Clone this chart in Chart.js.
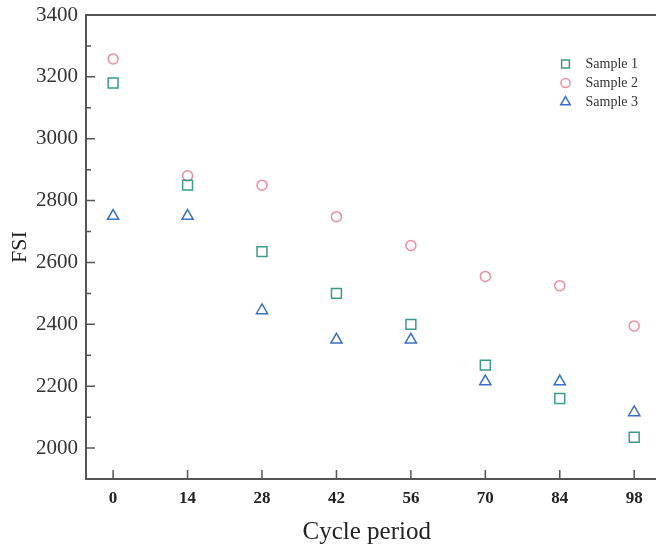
<!DOCTYPE html>
<html><head><meta charset="utf-8">
<script src="https://cdn.jsdelivr.net/npm/chart.js@4/dist/chart.umd.min.js"></script>
<style>html,body{margin:0;padding:0;background:#fff;}#wrap{width:656px;height:547px;position:relative;}</style>
</head><body><div id="wrap"><canvas id="c" width="656" height="547"></canvas></div>
<script>
const cycles = [0, 14, 28, 42, 56, 70, 84, 98];
const sample1 = [3180, 2850, 2635, 2500, 2400, 2268, 2160, 2035];
const sample2 = [3258, 2880, 2850, 2748, 2655, 2555, 2525, 2395];
const sample3 = [2750, 2750, 2445, 2350, 2350, 2215, 2215, 2115];
const seriesNames = ['Sample 1', 'Sample 2', 'Sample 3'];
const xTickLabels = ['0', '14', '28', '42', '56', '70', '84', '98'];
const yTickLabels = ['2000', '2200', '2400', '2600', '2800', '3000', '3200', '3400'];
const yMinorTicks = [2100, 2300, 2500, 2700, 2900, 3100, 3300];

const colors = ['#3a9a8c', '#f08c9c', '#3d6fc4'];
const styles = ['rect', 'circle', 'triangle'];
const radii = [7, 5, 6.5];
const legendRadii = [5.5, 4.5, 5.5];
const serif = "'Liberation Serif', 'DejaVu Serif', serif";

function pts(vals) { return cycles.map((c, i) => ({ x: c, y: vals[i] })); }
const allSeries = [sample1, sample2, sample3];

const frame = {
  id: 'frame',
  afterDatasetsDraw(chart) {
    const { ctx, chartArea: a, scales } = chart;
    ctx.save();
    ctx.strokeStyle = '#555';
    ctx.lineWidth = 2;
    ctx.beginPath();
    ctx.moveTo(chart.width, a.top); ctx.lineTo(a.left, a.top);
    ctx.lineTo(a.left, a.bottom); ctx.lineTo(chart.width, a.bottom);
    ctx.stroke();
    ctx.lineWidth = 1.5;
    ctx.beginPath();
    yTickLabels.forEach(t => {
      const y = scales.y.getPixelForValue(Number(t));
      ctx.moveTo(a.left, y); ctx.lineTo(a.left + 9, y);
    });
    yMinorTicks.forEach(t => {
      const y = scales.y.getPixelForValue(t);
      ctx.moveTo(a.left, y); ctx.lineTo(a.left + 5, y);
    });
    xTickLabels.forEach(t => {
      const x = scales.x.getPixelForValue(Number(t));
      ctx.moveTo(x, a.bottom); ctx.lineTo(x, a.bottom - 9);
    });
    ctx.stroke();
    // legend
    const lx = a.right - 82, ly = a.top + 49;
    chart.data.datasets.forEach((ds, i) => {
      const y = ly + i * 19;
      ctx.strokeStyle = ds.borderColor;
      ctx.fillStyle = 'rgba(0,0,0,0)';
      ctx.lineWidth = 1.5;
      Chart.helpers.drawPoint(ctx, { pointStyle: ds.pointStyle, radius: legendRadii[i], borderWidth: 1.5, rotation: 0 }, lx, y);
      ctx.fillStyle = '#333';
      ctx.font = "14px " + serif;
      ctx.textBaseline = 'middle';
      ctx.textAlign = 'left';
      ctx.fillText(ds.label, lx + 20, y);
    });
    ctx.restore();
  }
};

new Chart(document.getElementById('c'), {
  type: 'scatter',
  data: {
    datasets: allSeries.map((s, i) => ({
      label: seriesNames[i],
      data: pts(s),
      pointStyle: styles[i],
      pointRadius: radii[i],
      pointHoverRadius: radii[i],
      borderColor: colors[i],
      backgroundColor: 'rgba(0,0,0,0)',
      borderWidth: 1.5,
      showLine: false
    }))
  },
  options: {
    responsive: false,
    devicePixelRatio: 1,
    animation: false,
    layout: { padding: { top: 15, right: 0, left: 0, bottom: 0 } },
    plugins: { legend: { display: false }, tooltip: { enabled: false } },
    scales: {
      x: {
        type: 'linear', min: -5.1, max: 100.5,
        afterBuildTicks: s => { s.ticks = xTickLabels.map(v => ({ value: Number(v) })); },
        afterFit: s => { s.height = 68; s.paddingLeft = 0; s.paddingRight = 0; },
        grid: { display: false }, border: { display: false },
        ticks: { autoSkip: false, maxRotation: 0, padding: 1, color: '#222',
          font: { family: serif, size: 17, weight: 'bold' },
          callback: v => String(v) },
        title: { display: true, text: 'Cycle period', color: '#222',
          font: { family: serif, size: 25 }, padding: { top: 0, bottom: 0 } }
      },
      y: {
        type: 'linear', min: 1900, max: 3400,
        afterBuildTicks: s => { s.ticks = yTickLabels.map(v => ({ value: Number(v) })); },
        afterFit: s => { s.width = 86; s.paddingTop = 0; s.paddingBottom = 0; },
        grid: { display: false }, border: { display: false },
        ticks: { autoSkip: false, padding: 0, color: '#333',
          font: { family: serif, size: 21 },
          callback: v => String(v) },
        title: { display: true, text: 'FSI', color: '#222',
          font: { family: serif, size: 22 }, padding: { top: 7, bottom: 0 } }
      }
    }
  },
  plugins: [frame]
});
</script></body></html>
